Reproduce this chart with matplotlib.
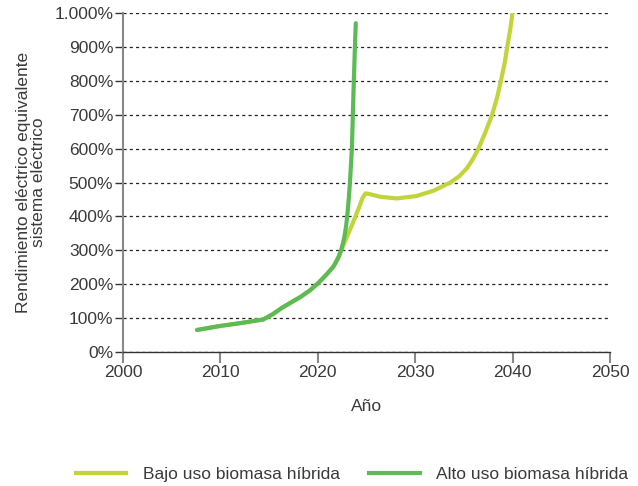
import matplotlib
matplotlib.use("Agg")
import matplotlib.pyplot as plt
from matplotlib.ticker import FuncFormatter
from matplotlib.lines import Line2D

plt.rcParams['font.family'] = ['Liberation Sans', 'DejaVu Sans']

# Data
alto_years = [2007.6, 2010, 2012, 2014.4, 2015.4, 2016.3, 2017.3, 2018.2, 2019.2, 2020.1, 2021, 2021.6,
              2022.1, 2022.4, 2022.7, 2022.9, 2023.05, 2023.2, 2023.3, 2023.4, 2023.5, 2023.6, 2023.7,
              2023.8, 2023.9]
alto_vals = [65, 77, 85, 96, 112, 130, 147, 162, 182, 205, 232, 252,
             278, 300, 335, 370, 410, 460, 500, 550, 600, 700, 800,
             890, 970]

bajo_years = [2007.6, 2010, 2012, 2014.4, 2015.4, 2016.3, 2017.3, 2018.2, 2019.2, 2020.1, 2021, 2021.6,
              2022.1, 2022.4, 2023.0, 2023.6, 2024.2, 2024.6, 2024.9, 2025.3, 2026.4, 2028.1,
              2030.1, 2031.9, 2033.6, 2034.5, 2035.3, 2035.9, 2036.5, 2037.2, 2037.9, 2038.4,
              2038.8, 2039.2, 2039.45, 2039.75, 2040]
bajo_vals = [65, 77, 85, 96, 112, 130, 147, 162, 182, 205, 232, 252,
             278, 300, 340, 381, 424, 455, 468, 466, 458, 453,
             460, 476, 500, 518, 542, 568, 600, 648, 700, 750,
             800, 855, 900, 950, 1003]

x_ticks = [2000, 2010, 2020, 2030, 2040, 2050]
y_ticks = [0, 100, 200, 300, 400, 500, 600, 700, 800, 900, 1000]

series_names = ['Bajo uso biomasa híbrida', 'Alto uso biomasa híbrida']
colors = ['#C3D43B', '#5CBB55']

text_color = '#3a3a3a'
fs = 12.5

fig = plt.figure(figsize=(6.38, 4.86), dpi=100)
ax = fig.add_axes([0.1928, 0.2757, 0.7633, 0.6975])

ax.plot(bajo_years, bajo_vals, color=colors[0], lw=3.0, solid_capstyle='round', solid_joinstyle='round', zorder=3)
ax.plot(alto_years, alto_vals, color=colors[1], lw=3.0, solid_capstyle='round', solid_joinstyle='round', zorder=4)

ax.set_xlim(2000, 2050)
ax.set_ylim(0, 1000)
ax.set_xticks(x_ticks)
ax.set_yticks(y_ticks)

def fmt(v, pos):
    v = int(round(v))
    s = f"{v:,}".replace(",", ".")
    return s + "%"
ax.yaxis.set_major_formatter(FuncFormatter(fmt))

ax.yaxis.grid(True, linestyle=(0, (2.5, 2.5)), color='#222222', linewidth=0.9)
ax.set_axisbelow(True)

for s in ['top', 'right']:
    ax.spines[s].set_visible(False)
ax.spines['left'].set_color('#888888')
ax.spines['left'].set_linewidth(1.5)
ax.spines['bottom'].set_color('#333333')
ax.spines['bottom'].set_linewidth(1.0)

ax.tick_params(axis='y', length=6, width=1, color='#333333', labelsize=fs, labelcolor=text_color, pad=1)
ax.tick_params(axis='x', length=8, width=1.5, color='#888888', labelsize=fs, labelcolor=text_color, pad=1)

ax.set_xlabel('Año', fontsize=fs, color=text_color, labelpad=14)
ax.set_ylabel('Rendimiento eléctrico equivalente\nsistema eléctrico', fontsize=fs,
              color=text_color, labelpad=6, linespacing=1.0)

handles = [Line2D([0], [0], color=c, lw=3.0) for c in colors]
fig.legend(handles, series_names, loc='center', bbox_to_anchor=(0.552, 0.023), ncol=2,
           frameon=False, fontsize=fs, handlelength=2.9, columnspacing=1.7,
           handletextpad=0.95, labelcolor=text_color, borderpad=0)

fig.savefig('out.png', dpi=100)
